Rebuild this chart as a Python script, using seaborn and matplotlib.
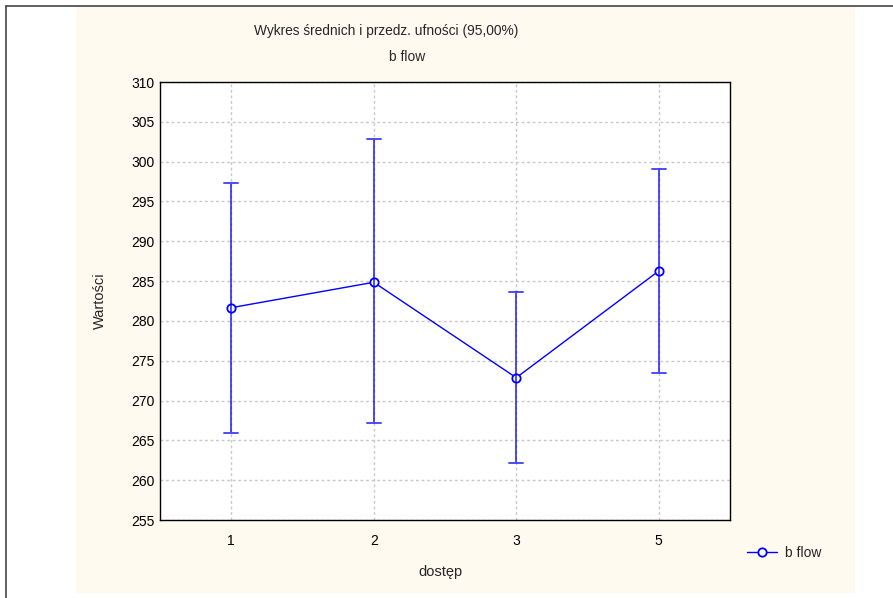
import numpy as np
import pandas as pd
import seaborn as sns
from matplotlib import pyplot as plt
from matplotlib.lines import Line2D

# values
groups = ["1", "2", "3", "5"]
means = [281.66, 284.85, 272.87, 286.27]
ci_low = [265.97, 267.15, 262.16, 273.50]
ci_high = [297.35, 302.84, 283.67, 299.07]
series_name = "b flow"


def ci_plot() -> None:
    sns.set_style("white")
    plt.rcParams["font.family"] = ["Liberation Sans", "DejaVu Sans"]

    # one row per bound and the mean; median gives the mean, min/max the CI
    df = pd.DataFrame({
        "dostep": groups * 3,
        "value": ci_low + means + ci_high,
    })

    fig = plt.figure(figsize=(8.93, 5.98), dpi=100, facecolor="white")
    # cream panel behind the chart
    fig.patches.append(plt.Rectangle((76 / 893, 5 / 598), (855 - 76) / 893, (591 - 5) / 598,
                                     transform=fig.transFigure, facecolor="#fffaf0",
                                     edgecolor="none", zorder=-10))
    # outer frame lines (top and left)
    fig.add_artist(Line2D([6 / 893, 1], [1 - 6 / 598, 1 - 6 / 598], color="#444444", lw=1.2))
    fig.add_artist(Line2D([6 / 893, 6 / 893], [0, 1 - 6 / 598], color="#444444", lw=1.2))

    ax = fig.add_axes([160 / 893, 1 - 520 / 598, 570 / 893, 438 / 598])
    ax.set_facecolor("white")

    sns.pointplot(
        data=df, x="dostep", y="value", order=groups,
        estimator="median", errorbar=lambda v: (v.min(), v.max()),
        color="blue", capsize=0.1, ax=ax,
        markers="o", markersize=6, markerfacecolor="white",
        markeredgecolor="blue", markeredgewidth=1.3, linewidth=1,
        err_kws={"linewidth": 1.4, "alpha": 0.7},
    )

    ax.set_ylim(255, 310)
    ax.set_yticks(np.arange(255, 311, 5))
    ax.set_xlim(-0.5, 3.5)
    ax.grid(True, color="#c8c8c8", linestyle=(0, (2, 2)), linewidth=1)
    ax.set_axisbelow(True)
    for s in ax.spines.values():
        s.set_visible(True)
        s.set_color("black")
        s.set_linewidth(1)
    ax.tick_params(axis="both", direction="in", length=3, labelsize=10, colors="black")
    ax.tick_params(axis="y", pad=4)
    ax.tick_params(axis="x", pad=10)
    ax.set_xlabel("")
    ax.set_ylabel("")

    fig.text(386 / 893, 1 - 31 / 598, "Wykres średnich i przedz. ufności (95,00%)",
             ha="center", va="center", fontsize=9.9)
    fig.text(407 / 893, 1 - 57 / 598, series_name, ha="center", va="center", fontsize=9.9)
    fig.text(100 / 893, 1 - 301 / 598, "Wartości", ha="center", va="center",
             rotation=90, fontsize=10.5)
    fig.text(440 / 893, 1 - 572 / 598, "dostęp", ha="center", va="center", fontsize=10.5)

    handle = Line2D([], [], color="blue", lw=1, marker="o", markersize=6,
                    markerfacecolor="white", markeredgecolor="blue", markeredgewidth=1.3)
    fig.legend([handle], [series_name], loc="center left",
               bbox_to_anchor=(734 / 893, 1 - 553 / 598), frameon=False,
               fontsize=10, handlelength=2.2, handletextpad=0.6)

    fig.savefig("out.png", dpi=100, facecolor="white")


if __name__ == "__main__":
    ci_plot()
